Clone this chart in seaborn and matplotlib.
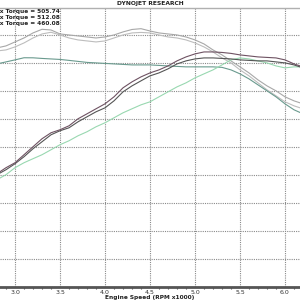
import numpy as np
import pandas as pd
import matplotlib
matplotlib.use("Agg")
import matplotlib.pyplot as plt
import seaborn as sns
from matplotlib.ticker import MultipleLocator

sns.set_theme(style="white")
plt.rcParams['font.family'] = ['DejaVu Sans']

rpm = [2.8, 2.9, 3.0, 3.1, 3.2, 3.3, 3.4, 3.5, 3.6, 3.7, 3.8, 3.9, 4.0, 4.1, 4.2,
       4.3, 4.4, 4.5, 4.6, 4.7, 4.8, 4.9, 5.0, 5.1, 5.2, 5.3, 5.4, 5.5, 5.6, 5.7,
       5.8, 5.9, 6.0, 6.1, 6.2]

torque_run2 = [477.7, 481.3, 488.4, 495.5, 504.5, 511.0, 509.8, 502.7, 500.9, 499.1,
               497.3, 495.5, 497.3, 500.9, 506.3, 510.7, 512.1, 508.0, 504.5, 502.7,
               500.9, 497.3, 492.0, 484.8, 474.1, 465.2, 454.5, 443.8, 433.0, 420.5,
               409.8, 400.9, 390.2, 383.0, 377.7]
torque_run1 = [472.3, 474.1, 479.5, 486.6, 495.5, 502.7, 505.7, 500.9, 495.5, 492.0,
               490.2, 488.4, 490.2, 495.5, 500.9, 504.5, 505.4, 504.5, 500.9, 497.3,
               495.5, 492.0, 486.6, 479.5, 470.5, 459.8, 450.9, 438.4, 427.7, 415.2,
               402.7, 392.0, 381.3, 374.1, 368.8]
torque_run3 = [449.1, 452.7, 456.3, 460.1, 460.0, 458.9, 458.0, 457.1, 455.4, 453.6,
               451.8, 450.9, 450.0, 449.1, 448.2, 447.3, 447.3, 447.3, 446.4, 445.5,
               444.6, 443.8, 443.8, 443.8, 443.8, 442.9, 438.4, 431.3, 422.3, 411.6,
               400.9, 390.2, 377.7, 367.0, 359.8]
power_run1 = [252.7, 263.4, 272.3, 286.6, 300.9, 315.2, 325.9, 331.3, 338.4, 350.9,
              359.8, 368.8, 377.7, 390.2, 406.3, 417.0, 425.9, 433.0, 438.4, 445.5,
              454.5, 461.6, 467.0, 470.5, 470.5, 469.6, 467.9, 465.2, 463.4, 461.6,
              460.7, 459.8, 456.3, 449.1, 443.8]
power_run2 = [250.9, 259.8, 270.5, 283.0, 297.3, 309.8, 322.3, 329.5, 334.8, 345.5,
              354.5, 363.4, 370.5, 383.0, 399.1, 409.8, 418.8, 427.7, 433.0, 440.2,
              449.1, 454.5, 458.0, 459.8, 459.8, 458.9, 458.0, 456.3, 455.4, 454.5,
              454.5, 452.7, 450.9, 447.3, 442.0]
power_run3 = [242.0, 250.9, 263.4, 272.3, 279.5, 286.6, 295.5, 304.5, 311.6, 320.5,
              327.7, 336.6, 343.8, 352.7, 361.6, 368.8, 375.9, 381.3, 390.2, 399.1,
              408.0, 415.2, 424.1, 431.3, 438.4, 447.3, 456.3, 459.8, 458.0, 454.5,
              450.9, 445.5, 442.0, 443.8, 443.8]

legend_lines = ["Max Torque = 505.74", "Max Torque = 512.08", "Max Torque = 460.08"]
x_ticks = [3.0, 3.5, 4.0, 4.5, 5.0, 5.5, 6.0]
x_tick_labels = ["3.0", "3.5", "4.0", "4.5", "5.0", "5.5", "6.0"]
title = "DYNOJET RESEARCH"
x_label = "Engine Speed (RPM x1000)"

series = [
    (torque_run1, "#bdbdbd"),
    (torque_run2, "#a8a8a8"),
    (torque_run3, "#6a9a8e"),
    (power_run3, "#98d8b0"),
    (power_run2, "#555555"),
    (power_run1, "#6e5262"),
]

fig = plt.figure(figsize=(3, 3), dpi=100)
ax = fig.add_axes([0.0, 13 / 300, 1.0, (287 - 7.5) / 300])
ax.set_facecolor("white")

for vals, col in series:
    sns.lineplot(x=rpm, y=vals, color=col, linewidth=0.8, ax=ax, legend=False)

ax.set_xlim(2.8333, 6.1667)
ax.set_ylim(50, 550)

ax.set_xticks(x_ticks)
ax.set_xticklabels(x_tick_labels, fontsize=4.5, color="#333333")
ax.xaxis.set_minor_locator(MultipleLocator(0.1))
ax.yaxis.set_major_locator(MultipleLocator(50))
ax.set_yticklabels([])
ax.tick_params(axis="y", length=0)
ax.tick_params(axis="x", which="major", length=1.5, width=0.8, color="#555555", pad=0.4,
               direction="out")
ax.tick_params(axis="x", which="minor", length=1.5, width=0.8, color="#555555",
               direction="out", bottom=True)

ax.grid(True, which="major", axis="both", color="#8a8a8a", linestyle=(0, (1, 1)),
        linewidth=0.8)
ax.set_axisbelow(True)

for s in ["left", "right"]:
    ax.spines[s].set_visible(False)
ax.spines["bottom"].set_color("#555555")
ax.spines["bottom"].set_linewidth(2)
ax.spines["top"].set_color("#b0b0b0")
ax.spines["top"].set_linewidth(1)

ax.set_xlabel("")
fig.text(0.5, 2.5 / 300, x_label, ha="center", va="center", fontsize=4.2,
         fontweight="bold", color="#222222")
fig.text(0.5, 1 - 4 / 300, title, ha="center", va="center", fontsize=4.3,
         fontweight="bold", color="#222222")

for i, t in enumerate(legend_lines):
    fig.text(-10 / 300, 1 - (12 + 6 * i) / 300, t, ha="left", va="center",
             fontsize=4.2, fontweight="bold", color="#222222")

fig.savefig("out.png", dpi=100)
